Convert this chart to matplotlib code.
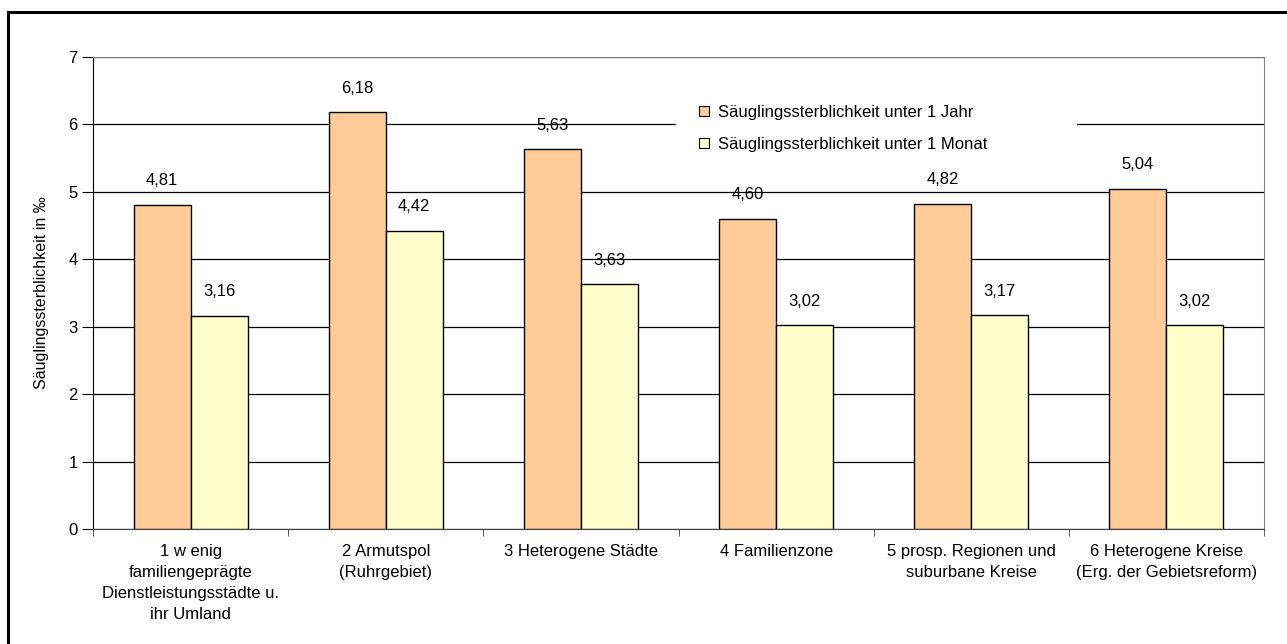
import matplotlib
matplotlib.use("Agg")
import matplotlib.pyplot as plt
from matplotlib.patches import Rectangle
import numpy as np

plt.rcParams['font.family'] = ['Liberation Sans', 'DejaVu Sans']

categories = [
    "1 w enig\nfamiliengeprägte\nDienstleistungsstädte u.\nihr Umland",
    "2 Armutspol\n(Ruhrgebiet)",
    "3 Heterogene Städte",
    "4 Familienzone",
    "5 prosp. Regionen und\nsuburbane Kreise",
    "6 Heterogene Kreise\n(Erg. der Gebietsreform)",
]
unter_1_jahr = [4.81, 6.18, 5.63, 4.60, 4.82, 5.04]
unter_1_monat = [3.16, 4.42, 3.63, 3.02, 3.17, 3.02]
series_names = ["Säuglingssterblichkeit unter 1 Jahr",
                "Säuglingssterblichkeit unter 1 Monat"]
y_label = "Säuglingssterblichkeit in ‰"


def fmt(v):
    return f"{v:.2f}".replace(".", ",")


fig = plt.figure(figsize=(12.87, 6.44), dpi=100)

# outer chart frame (cut off at right/bottom like the screenshot)
fig.patches.append(Rectangle((8 / 1287, -0.05), 1.2, (644 - 12) / 644 + 0.05,
                             transform=fig.transFigure, fill=False,
                             edgecolor='black', linewidth=2.2, zorder=0))

ax = fig.add_axes([93 / 1287, 1 - 529 / 644, (1264 - 93) / 1287, (529 - 57) / 644])

x = np.arange(len(categories))
w = 0.292
b1 = ax.bar(x - w / 2, unter_1_jahr, w, color='#FFCC99', edgecolor='black',
            linewidth=1.0, label=series_names[0], zorder=3)
b2 = ax.bar(x + w / 2, unter_1_monat, w, color='#FFFFCC', edgecolor='black',
            linewidth=1.0, label=series_names[1], zorder=3)

for bars, vals in ((b1, unter_1_jahr), (b2, unter_1_monat)):
    for r, v in zip(bars, vals):
        ax.annotate(fmt(v), (r.get_x() + r.get_width() / 2, v),
                    xytext=(0, 12), textcoords='offset points',
                    ha='center', va='bottom', fontsize=12)

ax.set_xlim(-0.5, len(categories) - 0.5)
ax.set_ylim(0, 7)
ax.set_yticks(range(0, 8))
ax.yaxis.grid(True, color='black', linewidth=0.9, zorder=0)
ax.set_axisbelow(True)

ax.set_xticks(x)
ax.set_xticklabels(categories, fontsize=12, linespacing=1.5, va='top')
ax.set_xticks(np.arange(-0.5, len(categories)), minor=True)
ax.tick_params(axis='x', which='major', length=0, pad=11)
ax.tick_params(axis='x', which='minor', length=5, color='#404040')
ax.tick_params(axis='y', length=8, labelsize=12, color='black', pad=3)
ax.set_ylabel(y_label, fontsize=11.5, labelpad=14)

for s in ('top', 'right'):
    ax.spines[s].set_color('#808080')
ax.spines['left'].set_color('black')
ax.spines['bottom'].set_color('#404040')

# legend area (white box hides the gridline behind it)
ax.add_patch(Rectangle((0.498, 0.77), 0.342, 0.17, transform=ax.transAxes,
                       facecolor='white', edgecolor='none', zorder=1))
leg = ax.legend(loc='upper left', bbox_to_anchor=(0.505, 0.93),
                frameon=False, fontsize=12,
                handlelength=0.6, handleheight=0.6, handletextpad=0.5,
                labelspacing=1.0, borderpad=0.9, borderaxespad=0)
for h in leg.legend_handles:
    h.set_linewidth(0.8)

fig.savefig("out.png", dpi=100)
